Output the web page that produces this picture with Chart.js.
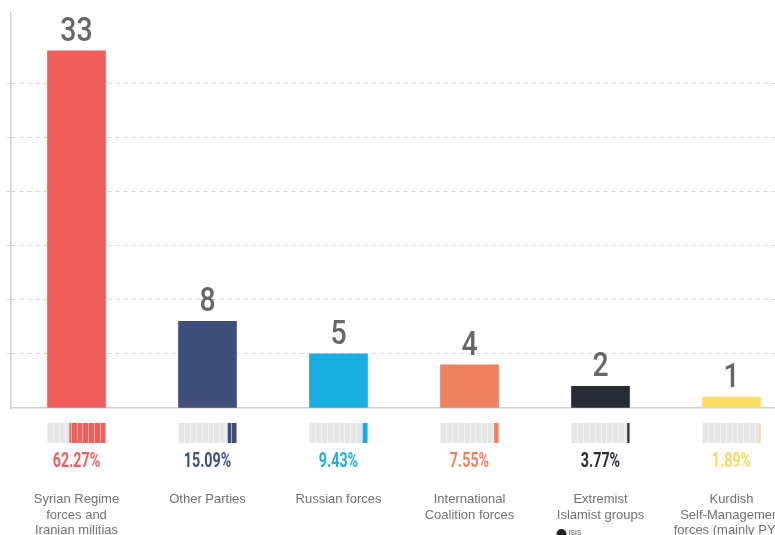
<!DOCTYPE html>
<html>
<head>
<meta charset="utf-8">
<script src="https://cdn.jsdelivr.net/npm/chart.js@4/dist/chart.umd.min.js"></script>
<style>
  html, body { margin: 0; padding: 0; background: #fff; overflow: hidden; }
  #wrap { width: 800px; height: 535px; }
</style>
</head>
<body>
<div id="wrap"><canvas id="c" width="800" height="535"></canvas></div>
<script>
// ---- data ----
const categories = [
  ["Syrian Regime", "forces and", "Iranian militias"],
  ["Other Parties"],
  ["Russian forces"],
  ["International", "Coalition forces"],
  ["Extremist", "Islamist groups"],
  ["Kurdish", "Self-Management", "forces (mainly PYD)"]
];
const victims = [33, 8, 5, 4, 2, 1];
const percentages = [62.27, 15.09, 9.43, 7.55, 3.77, 1.89];
const subLegend = ["", "", "", "", "ISIS", ""];
const gridStep = 5;
const gridMax = 30;

// ---- styles ----
const barColors = ["#EF5E5A", "#3D4E7A", "#19AEE1", "#EE805F", "#272B33", "#FDDD66"];
const pctColors = ["#EF5E5A", "#3D4E7A", "#19AEE1", "#EE805F", "#272B33", "#FCD95C"];

const overlay = {
  id: 'overlay',
  afterDatasetsDraw(chart) {
    const ctx = chart.ctx;
    const meta = chart.getDatasetMeta(0);
    meta.data.forEach((bar, i) => {
      const cx = bar.x, w = bar.width, left = cx - w / 2;
      ctx.save();
      // value label
      ctx.fillStyle = '#666';
      ctx.font = '500 33px Roboto';
      ctx.textAlign = 'center';
      ctx.textBaseline = 'alphabetic';
      ctx.translate(cx, bar.y - 10);
      ctx.scale(0.86, 1);
      ctx.fillText(String(victims[i]), 0, 0);
      ctx.restore();

      // stripe bar
      ctx.save();
      const sy = 423, sh = 20;
      ctx.fillStyle = '#e6e6e6';
      ctx.fillRect(left, sy, w, sh);
      const fw = w * percentages[i] / 100;
      ctx.fillStyle = barColors[i];
      ctx.fillRect(left + w - fw, sy, fw, sh);
      ctx.strokeStyle = 'rgba(255,255,255,0.55)';
      ctx.lineWidth = 1;
      for (let k = 1; k < 10; k++) {
        const x = Math.round(left + w * k / 10) + 0.5;
        ctx.beginPath(); ctx.moveTo(x, sy); ctx.lineTo(x, sy + sh); ctx.stroke();
      }
      ctx.restore();

      // percent label
      ctx.save();
      ctx.fillStyle = pctColors[i];
      ctx.font = '700 21px Roboto';
      ctx.textAlign = 'center';
      ctx.translate(cx, 467);
      ctx.scale(0.68, 1);
      ctx.fillText(percentages[i].toFixed(2) + '%', 0, 0);
      ctx.restore();

      // category label
      ctx.save();
      ctx.fillStyle = '#707070';
      ctx.font = '13px "Liberation Sans", Arial, sans-serif';
      ctx.textAlign = 'center';
      categories[i].forEach((line, j) => {
        ctx.fillText(line, cx, 503 + j * 15.5);
      });
      // small legend
      if (subLegend[i]) {
        ctx.fillStyle = '#222';
        ctx.beginPath();
        ctx.arc(cx - 39, 534, 5, 0, Math.PI * 2);
        ctx.fill();
        ctx.fillStyle = '#555';
        ctx.font = '7px "Liberation Sans", Arial, sans-serif';
        ctx.textAlign = 'left';
        ctx.fillText(subLegend[i], cx - 32, 535);
      }
      ctx.restore();
    });
  }
};

new Chart(document.getElementById('c'), {
  type: 'bar',
  data: {
    labels: categories.map(c => c.join(' ')),
    datasets: [{
      data: victims,
      backgroundColor: barColors,
      borderWidth: 0,
      barThickness: 58
    }]
  },
  options: {
    responsive: false,
    animation: false,
    devicePixelRatio: 1,
    layout: { padding: { left: 7, right: 3, top: 13, bottom: 119 } },
    plugins: { legend: { display: false }, tooltip: { enabled: false } },
    scales: {
      x: {
        grid: { display: false },
        ticks: { display: false },
        border: { color: '#cfcfcf', width: 1.5 }
      },
      y: {
        min: 0,
        max: 36.5,
        ticks: { display: false, stepSize: gridStep },
        grid: {
          color: c => (c.tick && c.tick.value > 0 && c.tick.value <= gridMax && c.tick.value % gridStep === 0) ? '#d6d6d6' : 'rgba(0,0,0,0)',
          tickLength: 4,
          lineWidth: 1
        },
        border: { color: '#cfcfcf', width: 1.5, dash: [4, 4] }
      }
    }
  },
  plugins: [overlay]
});
</script>
</body>
</html>
